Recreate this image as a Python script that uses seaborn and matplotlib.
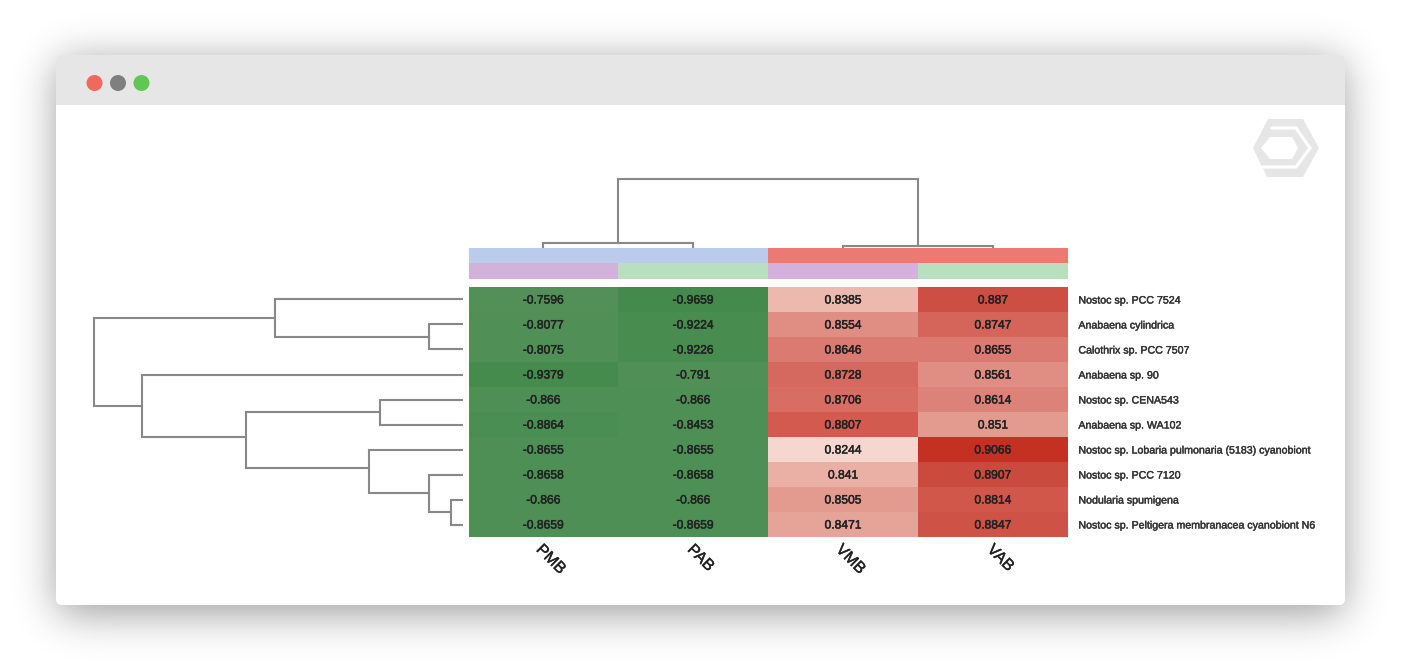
import math
import numpy as np
import pandas as pd
import seaborn as sns
import matplotlib
matplotlib.use("Agg")
import matplotlib.pyplot as plt
import matplotlib.patheffects as pe
from matplotlib.colors import LinearSegmentedColormap, ListedColormap, Normalize
from matplotlib.patches import Circle, FancyBboxPatch, Polygon, Rectangle
from matplotlib.transforms import ScaledTranslation

species = ["Nostoc sp. PCC 7524", "Anabaena cylindrica", "Calothrix sp. PCC 7507",
           "Anabaena sp. 90", "Nostoc sp. CENA543", "Anabaena sp. WA102",
           "Nostoc sp. Lobaria pulmonaria (5183) cyanobiont", "Nostoc sp. PCC 7120",
           "Nodularia spumigena", "Nostoc sp. Peltigera membranacea cyanobiont N6"]
columns = ["PMB", "PAB", "VMB", "VAB"]
pmb = [-0.7596, -0.8077, -0.8075, -0.9379, -0.866, -0.8864, -0.8655, -0.8658, -0.866, -0.8659]
pab = [-0.9659, -0.9224, -0.9226, -0.791, -0.866, -0.8453, -0.8655, -0.8658, -0.866, -0.8659]
vmb = [0.8385, 0.8554, 0.8646, 0.8728, 0.8706, 0.8807, 0.8244, 0.841, 0.8505, 0.8471]
vab = [0.887, 0.8747, 0.8655, 0.8561, 0.8614, 0.851, 0.9066, 0.8907, 0.8814, 0.8847]

# colour bars above the heatmap
group_top = [0, 0, 1, 1]
group_bottom = [0, 1, 0, 1]
top_colors = ["#bccbeb", "#ec7a73"]
bottom_colors = ["#d3b1da", "#b8e0be"]

# colours
cmap_values = [-0.9659, -0.866, -0.7596, 0.8244, 0.8385, 0.8505, 0.8646, 0.8728, 0.8807, 0.8907, 0.9066]
cmap_colors = ["#448a4c", "#4d8f55", "#529058", "#f6dbd3", "#edb9ae", "#e49d92",
               "#dc7e74", "#d76b61", "#d25a4e", "#cc4c40", "#c43022"]

# dendrogram links: children are leaf numbers or "L<n>" for an earlier link
row_left = [1, 0, 4, 8, 7, 6, "L2", 3, "L1"]
row_right = [2, "L0", 5, 9, "L3", "L4", "L5", "L6", "L7"]
row_height = [34, 188, 83, 12, 34, 94, 217, 321, 369]
row_pos = [2.0, 1.25, 5.0, 9.0, 8.25, 7.22, 6.0, 4.75, 3.0]

col_left = [0, 2, "L0"]
col_right = [1, 3, "L1"]
col_height = [4.5, 2, 68.5]
col_pos = [1.0, 3.0, 2.0]

W, H = 1410, 670
LINE = "#888888"


def px_axes(fig, x0, y0, x1, y1):
    return fig.add_axes([x0 / W, 1 - y1 / H, (x1 - x0) / W, (y1 - y0) / H])


def child_coords(child, pos, height):
    if isinstance(child, str):
        i = int(child[1:])
        return pos[i], height[i]
    return child + 0.5, 0


def draw_links(ax, left, right, height, pos, vertical):
    for i in range(len(left)):
        p1, h1 = child_coords(left[i], pos, height)
        p2, h2 = child_coords(right[i], pos, height)
        ps = [p1, p1, p2, p2]
        hs = [h1, height[i], height[i], h2]
        if vertical:
            ax.plot(ps, hs, color=LINE, lw=1.5, solid_capstyle="projecting", solid_joinstyle="miter")
        else:
            ax.plot(hs, ps, color=LINE, lw=1.5, solid_capstyle="projecting", solid_joinstyle="miter")


def thicken(text, width):
    text.set_path_effects([pe.withStroke(linewidth=width, foreground=text.get_color())])


sns.set_theme(style="white")
plt.rcParams["font.family"] = ["Liberation Sans", "DejaVu Sans"]

fig = plt.figure(figsize=(W / 100, H / 100), dpi=100, facecolor="white")

# window chrome and its drop shadow
bg = fig.add_axes([0, 0, 1, 1])
bg.set_xlim(0, W)
bg.set_ylim(H, 0)
bg.axis("off")

phi = np.vectorize(lambda t: 0.5 * (1 + math.erf(t / math.sqrt(2))))
xs, ys = np.arange(W) + 0.5, np.arange(H) + 0.5
sx = phi((xs - 58) / 21) * phi((1343 - xs) / 21)
sy = phi((ys - 62) / 21) * phi((613 - ys) / 21)
shadow = 1 - 0.4 * np.outer(sy, sx)
bg.imshow(shadow, cmap="gray", vmin=0, vmax=1, extent=(0, W, H, 0), aspect="auto", zorder=0)

window = FancyBboxPatch((56, 55), 1289, 550, boxstyle="round,pad=0,rounding_size=6",
                        fc="white", ec="none", zorder=1)
bg.add_patch(window)
bar = Rectangle((56, 55), 1289, 50, fc="#e6e6e6", ec="none", zorder=2)
bg.add_patch(bar)
bar.set_clip_path(window)
for cx, c in zip([94.5, 118, 141.5], ["#f1685e", "#7f7f7f", "#5fc854"]):
    bg.add_patch(Circle((cx, 83), 8, fc=c, ec="none", zorder=3))

# logo, top right
logo_grey = "#e6e6e6"
bg.add_patch(Polygon([(1253, 148), (1268, 119), (1303, 119), (1319, 148), (1303, 177), (1267, 177)],
                     fc=logo_grey, ec="none", zorder=3))
bg.add_patch(Polygon([(1261, 148), (1270, 137), (1292, 137), (1298, 148), (1292, 159), (1270, 159)],
                     fc="white", ec="none", zorder=4))
bg.plot([1272, 1296, 1310, 1296, 1263], [128, 128, 148, 167, 167], color="white", lw=2.3,
        solid_joinstyle="miter", zorder=4)

# main heatmap
df = pd.DataFrame({"PMB": pmb, "PAB": pab, "VMB": vmb, "VAB": vab}, index=species)[columns]
vmin, vmax = min(cmap_values), max(cmap_values)
stops = [(v - vmin) / (vmax - vmin) for v in cmap_values]
cmap = LinearSegmentedColormap.from_list("cells", list(zip(stops, cmap_colors)), N=1024)

ax = px_axes(fig, 468.5, 287, 1068, 537)
sns.heatmap(df, ax=ax, cmap=cmap, norm=Normalize(vmin, vmax), cbar=False, annot=True, fmt="g",
            annot_kws={"size": 8.7, "color": "#222222"})
down = ScaledTranslation(0, -1 / 100, fig.dpi_scale_trans)
for t in ax.texts:
    t.set_transform(t.get_transform() + down)
    thicken(t, 0.35)

ax.set_xlabel("")
ax.set_ylabel("")
ax.yaxis.tick_right()
ax.tick_params(axis="both", length=0)
ax.tick_params(axis="y", pad=7.5)
ax.tick_params(axis="x", pad=3.4)
ax.set_yticklabels(species, rotation=0, fontsize=7.65, color="#333333")
ax.set_xticklabels(columns, rotation=-45, fontsize=11.5, color="#222222", ha="center", va="top")
for lab in ax.get_yticklabels():
    thicken(lab, 0.3)
shift = ScaledTranslation(7.5 / 100, 0, fig.dpi_scale_trans)
for lab in ax.get_xticklabels():
    lab.set_transform(lab.get_transform() + shift)
    thicken(lab, 0.3)

# colour bars
ax_top = px_axes(fig, 468.5, 247.5, 1068, 263)
sns.heatmap(pd.DataFrame([group_top], columns=columns), ax=ax_top, cmap=ListedColormap(top_colors),
            vmin=0, vmax=1, cbar=False, xticklabels=False, yticklabels=False)
ax_bottom = px_axes(fig, 468.5, 263, 1068, 279)
sns.heatmap(pd.DataFrame([group_bottom], columns=columns), ax=ax_bottom, cmap=ListedColormap(bottom_colors),
            vmin=0, vmax=1, cbar=False, xticklabels=False, yticklabels=False)

# dendrograms, one unit of height is one pixel
ax_row = px_axes(fig, 83, 287, 463, 537)
draw_links(ax_row, row_left, row_right, row_height, row_pos, vertical=False)
ax_row.set_xlim(380, 0)
ax_row.set_ylim(10, 0)
ax_row.axis("off")

ax_col = px_axes(fig, 468.5, 170, 1068, 247.5)
draw_links(ax_col, col_left, col_right, col_height, col_pos, vertical=True)
ax_col.set_xlim(0, 4)
ax_col.set_ylim(0, 77.5)
ax_col.axis("off")

fig.savefig("out.png", dpi=100)
